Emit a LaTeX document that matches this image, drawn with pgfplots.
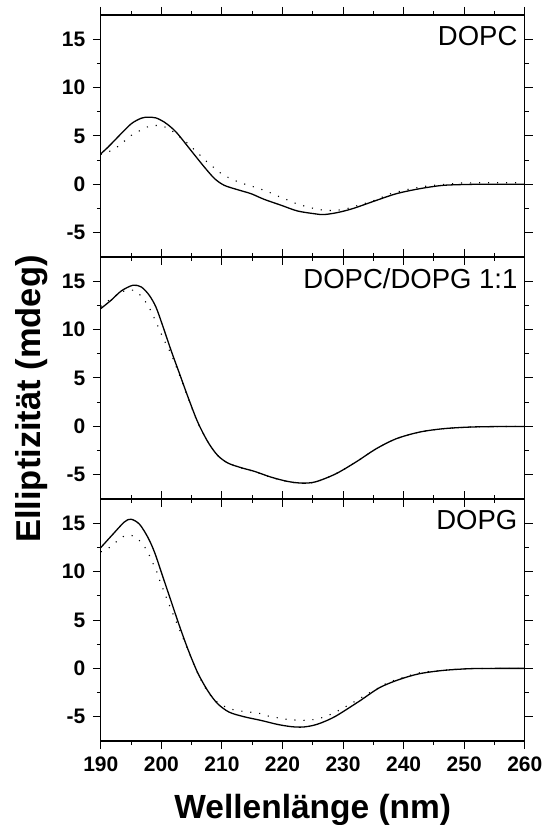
\documentclass[border=0pt]{standalone}
\usepackage{pgfplots}
\pgfplotsset{compat=1.18}
\usepackage{fontspec}
\setmainfont{Liberation Sans}
\begin{document}
\pgfplotsset{
  panel/.style={
    width=424pt, height=242pt, scale only axis,
    xmin=190, xmax=260, ymin=-7.5, ymax=17.5,
    xtick={190,200,...,260}, minor x tick num=1,
    ytick={-5,0,5,10,15}, minor y tick num=1,
    tick align=outside,
    major tick length=8pt, minor tick length=4pt,
    axis line style={line width=1.2pt},
    every tick/.style={black, line width=1pt},
    /pgf/number format/assume math mode=true,
    every tick label/.append style={font=\fontsize{21}{24}\selectfont\bfseries},
    yticklabel style={xshift=-4pt},
    xticklabel style={yshift=-4pt},
    clip=false,
  },
  solidc/.style={black, line width=1.3pt, smooth, tension=0.5},
  dotc/.style={black, line width=1.1pt, dash pattern=on 1.1pt off 7.9pt, smooth, tension=0.5},
}
\begin{tikzpicture}
\useasboundingbox (-98pt,-84pt) rectangle (441pt,741pt);
% bottom panel: DOPG
\begin{axis}[panel, at={(0pt,0pt)}, anchor=south west,
  xlabel={Wellenlänge (nm)},
  xlabel style={font=\bfseries\fontsize{33.5}{38}\selectfont, at={(axis description cs:0.5,0)}, anchor=north, yshift=-50pt},
]
\addplot[solidc] coordinates {(190,12.48)(192,13.86)(193.9,15.13)(195,15.41)(196.4,14.89)(197.8,13.51)(198.9,11.96)(200.2,9.55)(201.6,6.96)(203,4.37)(204.4,1.96)(206,-0.45)(207.7,-2.35)(209.3,-3.65)(211.2,-4.52)(213.7,-5.0)(216.5,-5.38)(219.2,-5.79)(221.5,-6.02)(223.3,-6.06)(225,-5.9)(226.5,-5.6)(228.8,-4.93)(232.7,-3.38)(236,-2.0)(239.3,-1.14)(242.6,-0.55)(246.5,-0.21)(250.9,-0.03)(255,0)(260,0)};
\addplot[dotc] coordinates {(190,12.05)(190.9,12.24)(192.4,13.0)(193.9,13.68)(195.4,13.68)(196.8,12.93)(197.8,11.96)(198.5,11.0)(199.2,10.06)(199.7,9.13)(200.3,8.17)(200.9,7.2)(201.5,6.27)(202.1,5.35)(202.8,4.3)(204.4,1.9)(206,-0.5)(207.4,-2.17)(208.7,-3.2)(210.1,-3.83)(211.7,-4.24)(213.2,-4.41)(214.7,-4.52)(216.2,-4.65)(217.7,-4.93)(219.2,-5.1)(220.8,-5.27)(222.2,-5.34)(223.8,-5.36)(225.3,-5.27)(226.8,-5.03)(228.3,-4.65)(229.8,-4.17)(231.3,-3.65)(232.8,-3.1)(234.4,-2.51)(235.9,-2.0)(237.4,-1.48)(238.9,-1.14)(240.4,-0.86)(241.9,-0.55)(243.4,-0.38)(244.9,-0.28)(246.5,-0.21)(248,-0.1)(250,-0.03)(255,0)(260,0)};
\node[anchor=north east, inner sep=0pt, font=\fontsize{27.5}{31}\selectfont] at (rel axis cs:0.983,0.953) {DOPG};
\end{axis}
% middle panel: DOPC/DOPG 1:1
\begin{axis}[panel, at={(0pt,242pt)}, anchor=south west, xticklabels={},
  ylabel={Elliptizität (mdeg)},
  ylabel style={font=\bfseries\fontsize{34.5}{39}\selectfont, at={(axis description cs:-0.163,0.413)}, anchor=center},
]
\addplot[solidc] coordinates {(190,12.17)(191.7,13.03)(193.4,14.0)(195.3,14.58)(196.7,14.4)(198,13.55)(199.1,12.34)(200.2,10.44)(201.6,7.86)(203,5.45)(204.4,3.03)(206,0.45)(207.7,-1.62)(209.3,-3.0)(211,-3.79)(213.2,-4.27)(215.4,-4.65)(218.1,-5.24)(220.9,-5.69)(223.3,-5.86)(225.5,-5.72)(228.8,-4.9)(232.1,-3.69)(235.5,-2.3)(238.8,-1.27)(242.6,-0.59)(246.5,-0.24)(250.9,-0.07)(255,-0.02)(260,0)};
\addplot[dotc] coordinates {(190,12.4)(191.2,12.96)(192.7,13.6)(194.2,14.06)(195.7,14.0)(197,13.2)(198,12.27)(198.75,11.3)(200.1,9.4)(200.8,8.48)(201.6,7.5)(203,5.3)(204.4,2.95)(206,0.4)(207.7,-1.6)(209.3,-3.0)(211,-3.8)(213.2,-4.3)(215.4,-4.68)(218.1,-5.27)(220.9,-5.72)(223.3,-5.88)(225.5,-5.74)(228.8,-4.9)(232.1,-3.69)(235.5,-2.3)(238.8,-1.27)(242.6,-0.59)(246.5,-0.24)(250.9,-0.07)(255,-0.02)(260,0)};
\node[anchor=north east, inner sep=0pt, font=\fontsize{27.5}{31}\selectfont] at (rel axis cs:0.983,0.955) {DOPC/DOPG 1:1};
\end{axis}
% top panel: DOPC
\begin{axis}[panel, at={(0pt,484pt)}, anchor=south west, xticklabels={}]
\addplot[solidc] coordinates {(190,3.16)(191.2,3.85)(192.8,4.88)(195,6.25)(196.7,6.84)(197.8,6.94)(199.1,6.87)(200.5,6.43)(201.6,5.9)(202.7,5.22)(204.9,3.5)(207.1,1.79)(208.8,0.59)(210.4,-0.1)(212.6,-0.55)(214.8,-0.96)(217,-1.55)(219.8,-2.16)(222.5,-2.75)(225.5,-3.05)(226.8,-3.12)(229,-2.92)(231.6,-2.5)(235.5,-1.65)(238.8,-0.96)(242.6,-0.45)(246.5,-0.1)(250.9,0)(255,0.02)(260,0.02)};
\addplot[dotc] coordinates {(190,3.1)(192,3.57)(193.5,4.26)(195,5.05)(196.6,5.6)(198,6.0)(199.6,6.08)(201.1,5.8)(202.6,5.12)(204.1,4.36)(205.6,3.5)(207.1,2.58)(208.7,1.72)(210.1,1.03)(211.7,0.52)(213.2,0.14)(214.7,-0.14)(216.2,-0.45)(217.7,-0.79)(219.2,-1.2)(220.8,-1.6)(222.2,-1.97)(223.8,-2.27)(225.3,-2.5)(226.8,-2.66)(228.3,-2.7)(229.8,-2.6)(231.3,-2.4)(232.8,-2.1)(234.4,-1.82)(235.9,-1.48)(237.4,-1.06)(238.9,-0.79)(240.4,-0.55)(241.9,-0.38)(243.4,-0.21)(244.9,-0.1)(246.5,0)(248,0.07)(249.5,0.14)(252,0.17)(256,0.17)(260,0.17)};
\node[anchor=north east, inner sep=0pt, font=\fontsize{27.5}{31}\selectfont] at (rel axis cs:0.983,0.953) {DOPC};
\end{axis}
\end{tikzpicture}
\end{document}
